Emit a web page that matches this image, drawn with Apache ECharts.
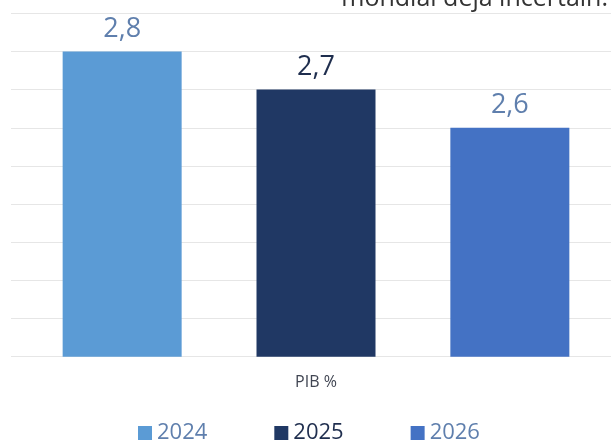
<!DOCTYPE html>
<html>
<head>
<meta charset="utf-8">
<style>
  html, body { margin: 0; padding: 0; background: #ffffff; }
  #chart { width: 611px; height: 441px; }
</style>
<script src="https://cdn.jsdelivr.net/npm/echarts@6/dist/echarts.min.js"></script>
</head>
<body>
<div id="chart"></div>
<script>
// GDP growth forecast, one cluster of three yearly bars
const categories = ['PIB %'];
const years = ['2024', '2025', '2026'];
const gdpGrowth = [2.8, 2.7, 2.6];
const headline = 'mondial déjà incertain.';

// value axis range (truncated scale)
const yMin = 2.0;
const yMax = 2.9;
const yStep = 0.1;

const barColors = ['#5b9bd5', '#203864', '#4472c4'];
const textColors = ['#5f7fad', '#1f2e4e', '#5f7fad'];
const FONT = '"Open Sans", "Noto Sans", sans-serif';

const fmt = v => v.toFixed(1).replace('.', ',');

const chart = echarts.init(document.getElementById('chart'), null, { renderer: 'canvas' });

const plotTop = 13.3;
const plotHeight = 343.4;

const series = years.map((year, i) => ({
  name: year,
  type: 'bar',
  xAxisIndex: 1,
  yAxisIndex: 1,
  data: [gdpGrowth[i]],
  barWidth: 119,
  barGap: '62.9%',
  itemStyle: { color: barColors[i] },
  label: {
    show: true,
    position: 'top',
    distance: 9,
    formatter: p => fmt(p.value),
    color: textColors[i],
    fontFamily: FONT,
    fontSize: 27
  }
}));

chart.setOption({
  animation: false,
  backgroundColor: '#ffffff',
  graphic: [{
    type: 'text',
    right: 3,
    top: -14,
    style: {
      text: headline,
      font: '25px ' + FONT,
      fill: '#333333'
    }
  }],
  grid: [
    // full-width grid carrying the horizontal gridlines
    { left: 11, right: 0, top: plotTop, height: plotHeight },
    // grid holding the bar cluster
    { left: 21, right: 0, top: plotTop, height: plotHeight }
  ],
  xAxis: [
    { type: 'value', gridIndex: 0, show: false, min: 0, max: 1 },
    {
      type: 'category',
      gridIndex: 1,
      data: categories,
      axisLine: { show: false },
      axisTick: { show: false },
      axisLabel: {
        margin: 18,
        color: '#404552',
        fontFamily: FONT,
        fontSize: 16
      }
    }
  ],
  yAxis: [
    {
      type: 'value',
      gridIndex: 0,
      min: yMin,
      max: yMax,
      interval: yStep,
      axisLabel: { show: false },
      axisLine: { show: false },
      axisTick: { show: false },
      splitLine: { lineStyle: { color: '#e6e6e6', width: 1 } }
    },
    {
      type: 'value',
      gridIndex: 1,
      min: yMin,
      max: yMax,
      interval: yStep,
      axisLabel: { show: false },
      axisLine: { show: false },
      axisTick: { show: false },
      splitLine: { show: false }
    }
  ],
  legend: {
    left: 138,
    top: 422,
    padding: 0,
    icon: 'rect',
    itemWidth: 14,
    itemHeight: 14,
    itemGap: 67,
    textStyle: { fontFamily: FONT, fontSize: 22 },
    data: years.map((y, i) => ({ name: y, textStyle: { color: textColors[i] } }))
  },
  series: series
});
</script>
</body>
</html>
